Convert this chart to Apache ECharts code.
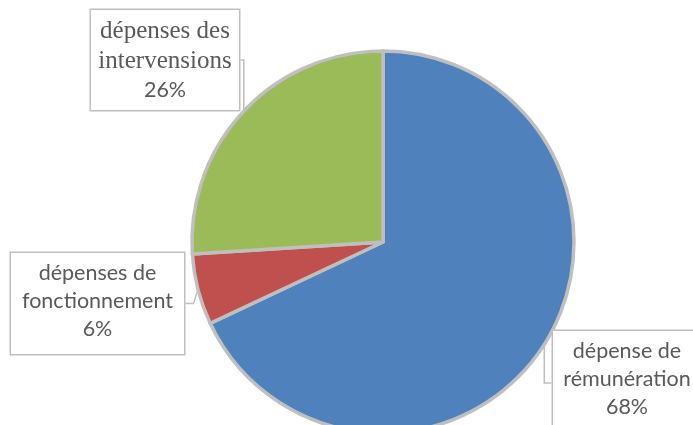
<!DOCTYPE html>
<html>
<head>
<meta charset="utf-8">
<script src="https://cdn.jsdelivr.net/npm/echarts@6/dist/echarts.min.js"></script>
<style>
  html, body { margin: 0; padding: 0; background: #fff; }
  #main { width: 693px; height: 425px; }
</style>
</head>
<body>
<div id="main"></div>
<script>
// données du graphique
const categories = ['dépense de\nrémunération', 'dépenses de\nfonctionnement', 'dépenses des\nintervensions'];
const values = [68, 6, 26];
const colors = ['#4F81BD', '#C0504D', '#9BBB59'];

// position des étiquettes (coin haut-gauche de la boîte)
const labelBox = [
  { x: 553, y: 331, w: 150, h: 100 },
  { x: 11, y: 253, w: 175, h: 97 },
  { x: 91, y: 10, w: 150, h: 96 }
];
const serifName = [false, false, true];

const chart = echarts.init(document.getElementById('main'));

function lineStyle(i) {
  return {
    fontFamily: serifName[i] ? 'Liberation Serif' : 'Lato',
    fontSize: serifName[i] ? 25 : 21.5,
    lineHeight: serifName[i] ? 30 : 28,
    color: '#595959',
    align: 'center'
  };
}

const data = values.map(function (v, i) {
  return {
    name: categories[i],
    value: v,
    itemStyle: { color: colors[i] },
    label: {
      width: labelBox[i].w - 2,
      height: labelBox[i].h - 2,
      rich: {
        n0: lineStyle(i),
        n1: lineStyle(i),
        p: {
          fontFamily: 'Lato',
          fontSize: 21.5,
          lineHeight: 29,
          color: '#595959',
          align: 'center'
        }
      }
    }
  };
});

chart.setOption({
  animation: false,
  series: [{
    type: 'pie',
    center: [383, 242],
    radius: 191,
    startAngle: 90,
    clockwise: true,
    itemStyle: { borderColor: '#BFBFBF', borderWidth: 3.5 },
    label: {
      show: true,
      position: 'outside',
      formatter: function (p) {
        const lines = p.name.split('\n');
        return '{n0|' + lines[0] + '}\n{n1|' + lines[1] + '}\n{p|' + Math.round(p.percent) + '%}';
      },
      backgroundColor: '#fff',
      borderColor: '#BFBFBF',
      borderWidth: 1.5,
      padding: [6, 0, 0, 0],
      align: 'center',
      verticalAlign: 'top'
    },
    labelLine: {
      show: true,
      length: 8,
      length2: 8,
      lineStyle: { color: '#BFBFBF', width: 1.5 }
    },
    labelLayout: function (params) {
      const b = labelBox[params.dataIndex];
      return { x: b.x, y: b.y, align: 'left', verticalAlign: 'top', moveOverlap: false };
    },
    data: data
  }]
});
</script>
</body>
</html>
